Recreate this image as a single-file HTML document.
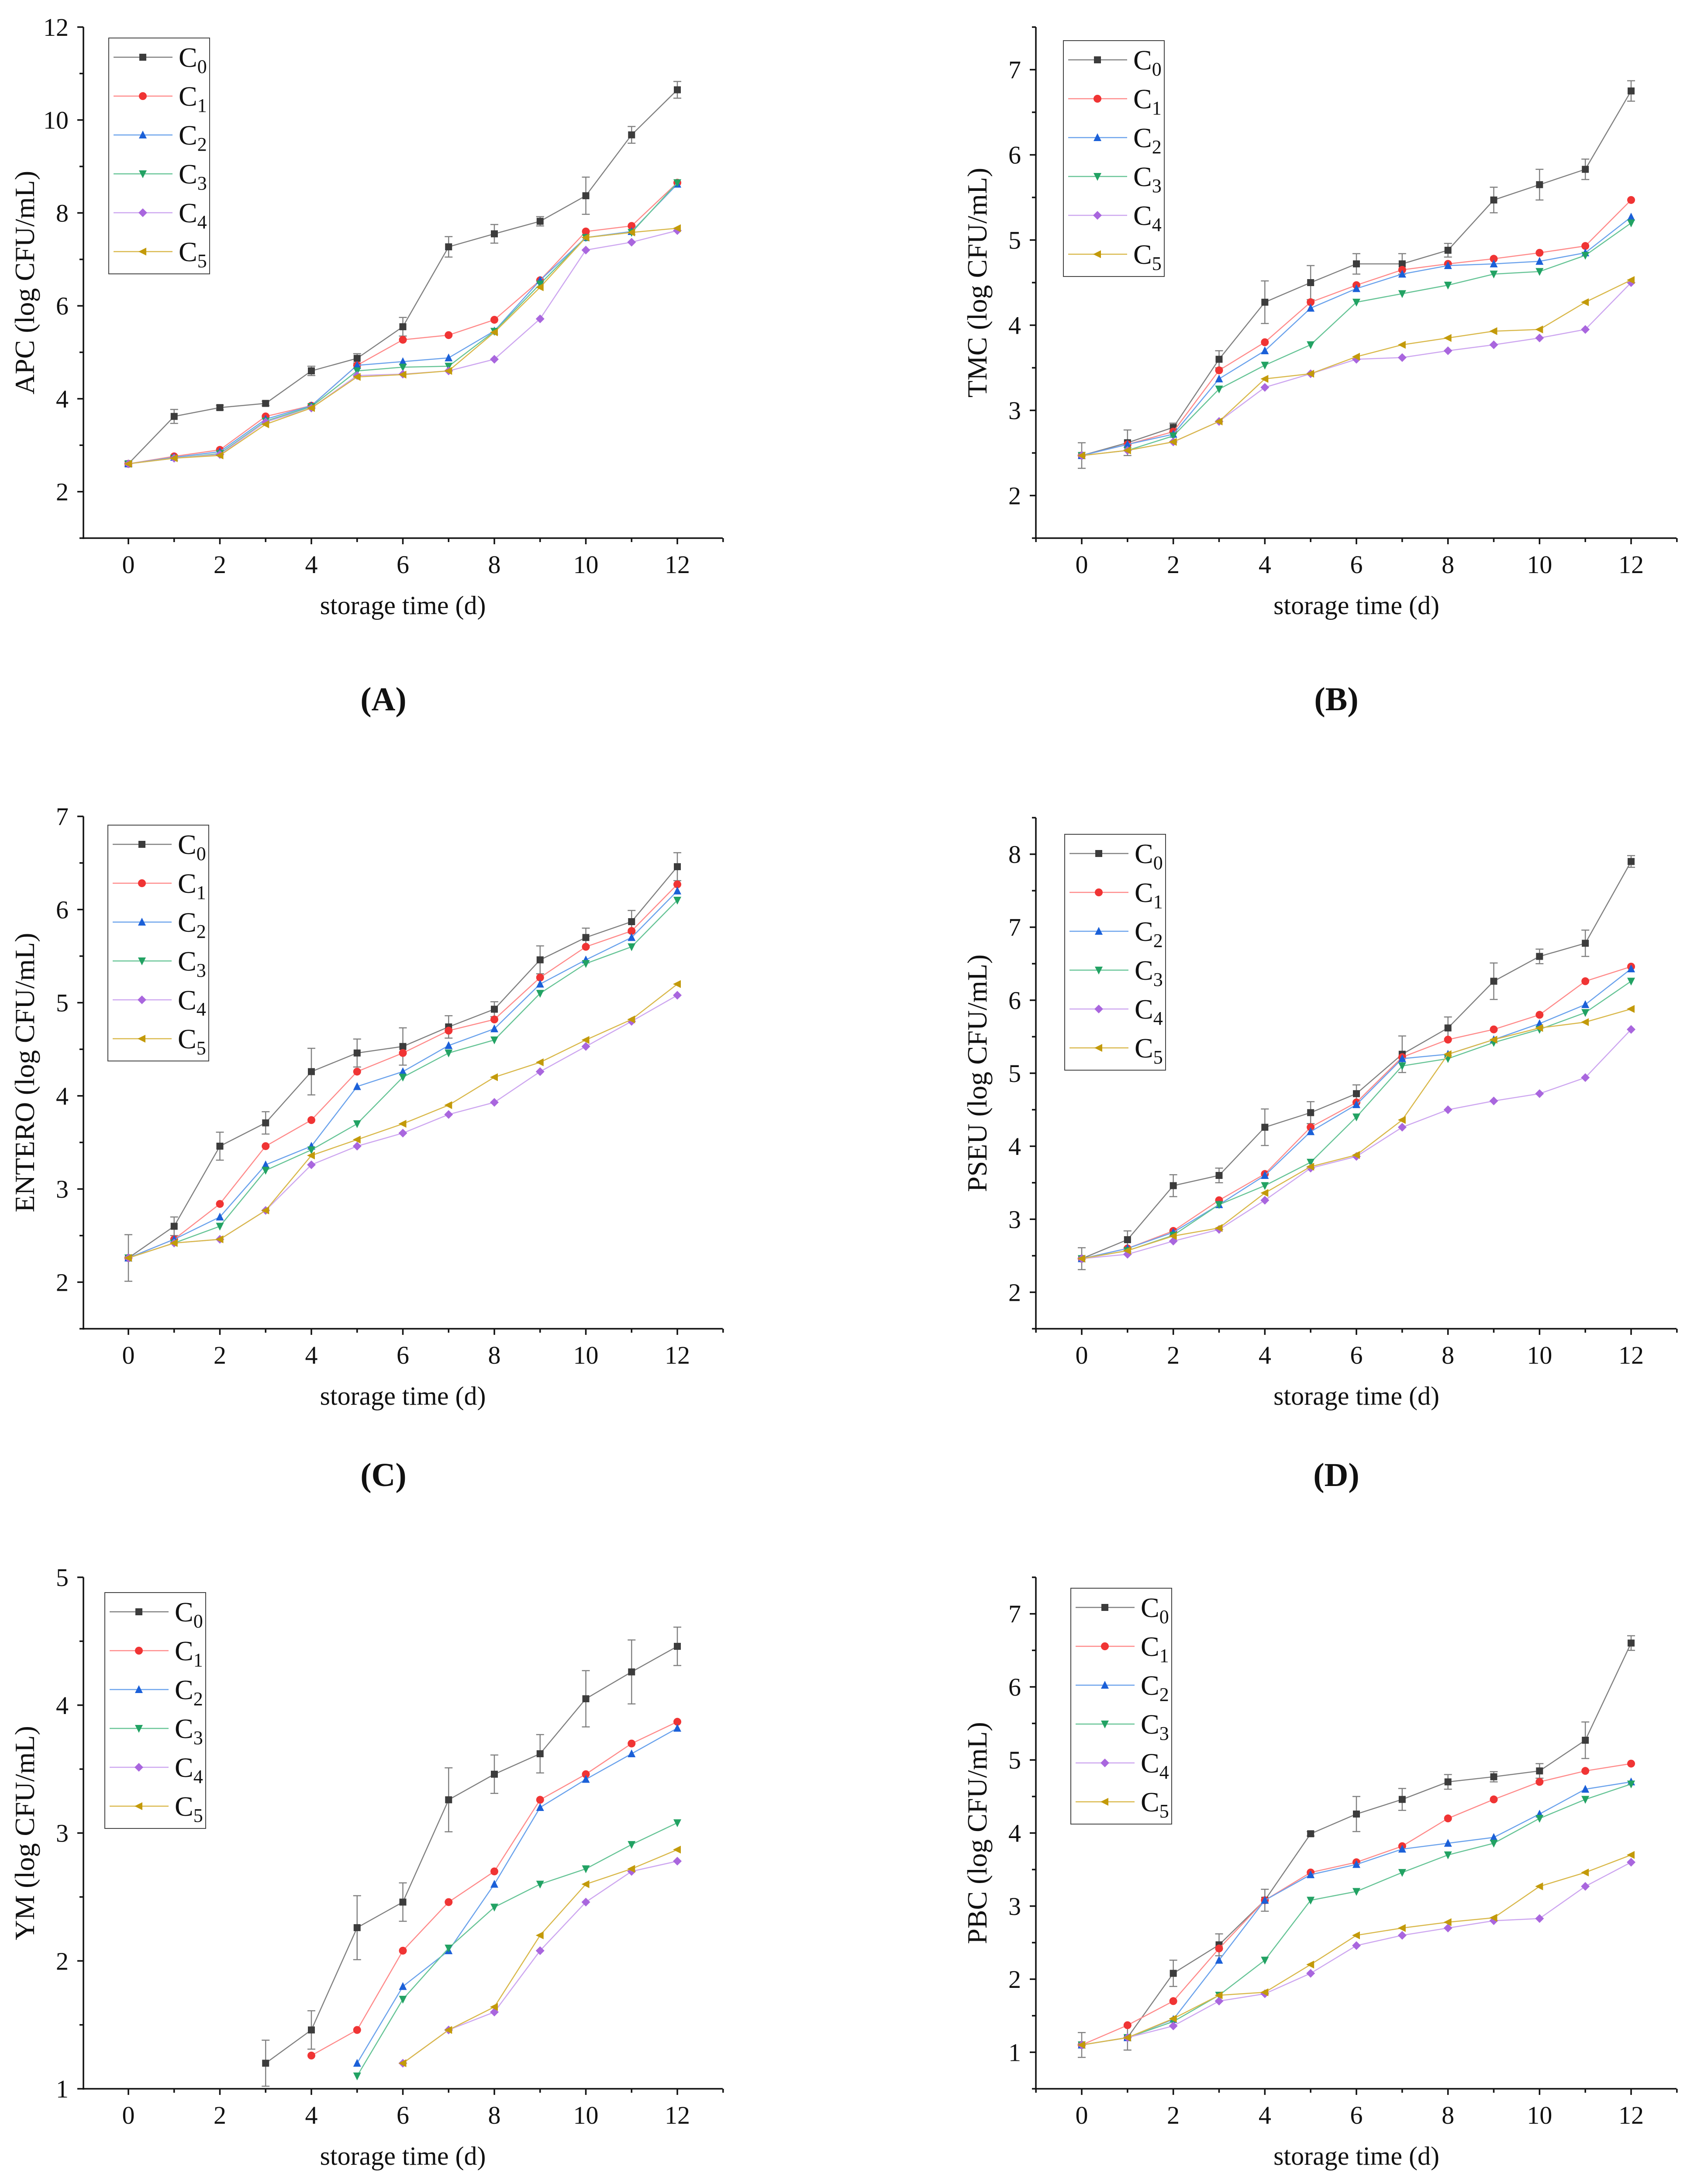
<!DOCTYPE html>
<html><head><meta charset="utf-8"><style>
html,body{margin:0;padding:0;background:#fff;overflow:hidden;width:3863px;height:5177px}
#wrap{position:absolute;left:0;top:0;width:3863px;height:5177px;overflow:hidden}
svg{display:block;position:absolute;left:0;top:0}
text{font-family:"Liberation Serif",serif;fill:#111}
</style></head><body>
<div id="wrap">
<svg id="fig" xmlns="http://www.w3.org/2000/svg" width="3863" height="5177" viewBox="0 0 3863 5177">
<rect width="3863" height="5177" fill="#fff"/>
</svg>
</div>
<script>
const days = [0,1,2,3,4,5,6,7,8,9,10,11,12];
const seriesNames = ["C0","C1","C2","C3","C4","C5"];
const xTickLabels = ["0","2","4","6","8","10","12"];

const apcC0 = [2.6,3.62,3.81,3.9,4.6,4.87,5.55,7.27,7.55,7.82,8.37,9.68,10.65];
const apcC1 = [2.6,2.76,2.9,3.62,3.85,4.72,5.27,5.37,5.7,6.55,7.6,7.72,8.65];
const apcC2 = [2.6,2.74,2.86,3.56,3.85,4.72,4.8,4.88,5.46,6.55,7.47,7.6,8.62];
const apcC3 = [2.6,2.72,2.82,3.52,3.83,4.6,4.68,4.7,5.45,6.47,7.47,7.58,8.65];
const apcC4 = [2.6,2.72,2.8,3.5,3.8,4.5,4.53,4.6,4.85,5.72,7.2,7.37,7.62];
const apcC5 = [2.6,2.72,2.78,3.45,3.8,4.47,4.52,4.6,5.43,6.4,7.47,7.58,7.67];
const apcErrC0 = [0.05,0.15,0.05,0.05,0.1,0.1,0.2,0.22,0.2,0.1,0.4,0.18,0.18];

const tmcC0 = [2.47,2.62,2.8,3.6,4.27,4.5,4.72,4.72,4.88,5.47,5.65,5.83,6.75];
const tmcC1 = [2.47,2.6,2.75,3.47,3.8,4.27,4.47,4.65,4.72,4.78,4.85,4.93,5.47];
const tmcC2 = [2.47,2.6,2.72,3.37,3.7,4.2,4.43,4.6,4.7,4.72,4.75,4.85,5.27];
const tmcC3 = [2.47,2.53,2.7,3.25,3.53,3.77,4.27,4.37,4.47,4.6,4.63,4.82,5.2];
const tmcC4 = [2.47,2.53,2.63,2.87,3.27,3.43,3.6,3.62,3.7,3.77,3.85,3.95,4.5];
const tmcC5 = [2.47,2.53,2.63,2.87,3.37,3.43,3.63,3.77,3.85,3.93,3.95,4.27,4.53];
const tmcErrC0 = [0.15,0.15,0.05,0.1,0.25,0.2,0.12,0.12,0.08,0.15,0.18,0.12,0.12];

const entC0 = [2.26,2.6,3.46,3.71,4.26,4.46,4.53,4.74,4.93,5.46,5.7,5.87,6.46];
const entC1 = [2.26,2.46,2.84,3.46,3.74,4.26,4.46,4.7,4.82,5.27,5.6,5.77,6.27];
const entC2 = [2.26,2.46,2.7,3.26,3.46,4.1,4.26,4.54,4.72,5.2,5.46,5.7,6.2];
const entC3 = [2.26,2.42,2.6,3.2,3.42,3.7,4.2,4.46,4.6,5.1,5.42,5.6,6.1];
const entC4 = [2.26,2.42,2.46,2.77,3.26,3.46,3.6,3.8,3.93,4.26,4.53,4.8,5.08];
const entC5 = [2.26,2.42,2.46,2.77,3.36,3.53,3.7,3.9,4.2,4.36,4.6,4.82,5.2];
const entErrC0 = [0.25,0.1,0.15,0.12,0.25,0.15,0.2,0.12,0.08,0.15,0.1,0.12,0.15];

const pseC0 = [2.46,2.72,3.46,3.6,4.26,4.46,4.72,5.26,5.62,6.26,6.6,6.78,7.9];
const pseC1 = [2.46,2.6,2.84,3.26,3.62,4.26,4.6,5.22,5.46,5.6,5.8,6.26,6.46];
const pseC2 = [2.46,2.6,2.82,3.2,3.6,4.2,4.57,5.2,5.26,5.46,5.68,5.94,6.43];
const pseC3 = [2.46,2.57,2.78,3.2,3.46,3.78,4.4,5.1,5.2,5.42,5.6,5.83,6.26];
const pseC4 = [2.46,2.52,2.7,2.86,3.26,3.7,3.86,4.26,4.5,4.62,4.72,4.94,5.6];
const pseC5 = [2.46,2.57,2.77,2.88,3.36,3.72,3.88,4.36,5.26,5.46,5.62,5.7,5.88];
const pseErrC0 = [0.15,0.12,0.15,0.1,0.25,0.15,0.12,0.25,0.15,0.25,0.1,0.18,0.08];

const ymC0 = [null,null,null,1.2,1.46,2.26,2.46,3.26,3.46,3.62,4.05,4.26,4.46];
const ymC1 = [null,null,null,null,1.26,1.46,2.08,2.46,2.7,3.26,3.46,3.7,3.87];
const ymC2 = [null,null,null,null,null,1.2,1.8,2.08,2.6,3.2,3.42,3.62,3.82];
const ymC3 = [null,null,null,null,null,1.1,1.7,2.1,2.42,2.6,2.72,2.91,3.08];
const ymC4 = [null,null,null,null,null,null,1.2,1.46,1.6,2.08,2.46,2.7,2.78];
const ymC5 = [null,null,null,null,null,null,1.2,1.46,1.64,2.2,2.6,2.72,2.87];
const ymErrC0 = [null,null,null,0.18,0.15,0.25,0.15,0.25,0.15,0.15,0.22,0.25,0.15];

const pbcC0 = [1.1,1.2,2.08,2.47,3.08,3.99,4.26,4.46,4.7,4.77,4.85,5.27,6.6];
const pbcC1 = [1.1,1.37,1.7,2.42,3.08,3.46,3.6,3.82,4.2,4.46,4.7,4.85,4.95];
const pbcC2 = [1.1,1.2,1.45,2.26,3.08,3.43,3.57,3.78,3.86,3.94,4.26,4.6,4.7];
const pbcC3 = [1.1,1.2,1.42,1.78,2.26,3.08,3.2,3.46,3.7,3.86,4.2,4.46,4.67];
const pbcC4 = [1.1,1.2,1.36,1.7,1.8,2.08,2.46,2.6,2.7,2.8,2.83,3.27,3.6];
const pbcC5 = [1.1,1.2,1.46,1.78,1.82,2.2,2.6,2.7,2.78,2.84,3.27,3.46,3.7];
const pbcErrC0 = [0.17,0.17,0.18,0.15,0.15,0.03,0.24,0.15,0.1,0.07,0.1,0.25,0.1];

const NS = "http://www.w3.org/2000/svg";
const svg = document.getElementById("fig");
const lineColors = ["#808080","#ff8a8a","#6aa2ec","#66c496","#cda6f0","#d9b84a"];
const markColors = ["#3c3c3c","#f03434","#1b60d8","#22a263","#a966de","#c39a0a"];
const markers = ["square","circle","triangle","tridown","diamond","triLeft"];

function mk(tag, attrs, parent){
  const e = document.createElementNS(NS, tag);
  for (const k in attrs) e.setAttribute(k, attrs[k]);
  (parent||svg).appendChild(e);
  return e;
}
function drawMarker(g, type, cx, cy, col){
  const s = 8;
  let e;
  if (type==="square") e = mk("rect",{x:cx-s,y:cy-s,width:2*s,height:2*s,fill:col},g);
  else if (type==="circle") e = mk("circle",{cx:cx,cy:cy,r:s+1,fill:col},g);
  else if (type==="triangle") e = mk("polygon",{points:`${cx},${cy-s-2} ${cx+s+1},${cy+s} ${cx-s-1},${cy+s}`,fill:col},g);
  else if (type==="tridown") e = mk("polygon",{points:`${cx},${cy+s+2} ${cx+s+1},${cy-s} ${cx-s-1},${cy-s}`,fill:col},g);
  else if (type==="diamond") e = mk("polygon",{points:`${cx},${cy-s-2} ${cx+s+2},${cy} ${cx},${cy+s+2} ${cx-s-2},${cy}`,fill:col},g);
  else e = mk("polygon",{points:`${cx-s-2},${cy} ${cx+s},${cy-s-1} ${cx+s},${cy+s+1}`,fill:col},g);
  return e;
}

function panel(p){
  const g = mk("g",{});
  
  
  const xs = d => p.x0 + (d - 0) * (p.x12 - p.x0) / 12;
  const ys = v => p.bottom - (v - p.ymin) * (p.bottom - p.top) / (p.ymax - p.ymin);
  const eg = mk("g",{stroke:lineColors[0],"stroke-width":2.5},g);
  
  
  p.series[0].forEach((v,i)=>{
    const e = p.err[i];
    if (v===null || e===null) return;
    const x = xs(days[i]);
    mk("line",{x1:x,y1:ys(v+e),x2:x,y2:ys(v-e)},eg);
    mk("line",{x1:x-9,y1:ys(v+e),x2:x+9,y2:ys(v+e)},eg);
    mk("line",{x1:x-9,y1:ys(v-e),x2:x+9,y2:ys(v-e)},eg);
  });
  p.series.forEach((vals, si) => {
    const sg = mk("g",{},g);
    
    
    let pts = [];
    vals.forEach((v,i)=>{ if(v!==null) pts.push([xs(days[i]), ys(v)]); });
    const pl = mk("polyline",{points:pts.map(q=>q.join(",")).join(" "),fill:"none",stroke:lineColors[si],"stroke-width":2.5},sg);
    
    
    pts.forEach(q=>{
      const m = drawMarker(sg, markers[si], q[0], q[1], markColors[si]);
      
      
    });
  });
  const ax = mk("g",{stroke:"#111","stroke-width":3.5},g);
  
  
  mk("line",{x1:p.axisX,y1:p.top,x2:p.axisX,y2:p.bottom+2},ax);
  mk("line",{x1:p.axisX-2,y1:p.bottom,x2:p.right,y2:p.bottom},ax);
  for (let d=-1; d<=13; d++){
    const x = xs(d);
    if (x < p.axisX-1 || x > p.right+1) continue;
    const len = (d%2===0) ? 14 : 9;
    mk("line",{x1:x,y1:p.bottom,x2:x,y2:p.bottom+len},ax);
  }
  xTickLabels.forEach(lab=>{
    const t = mk("text",{x:xs(Number(lab)),y:p.bottom+80,"font-size":58,"text-anchor":"middle"},g);
    t.textContent = lab;
    
    
  });
  for (let v=p.ymin; v<=p.ymax+1e-9; v+=p.minor){
    const vv = Math.round(v*100)/100;
    const isMajor = Math.abs(vv/p.major - Math.round(vv/p.major))<1e-6 && vv>=p.firstTick;
    mk("line",{x1:p.axisX,y1:ys(vv),x2:p.axisX-(isMajor?14:9),y2:ys(vv)},ax);
    if (isMajor){
      const t = mk("text",{x:p.axisX-34,y:ys(vv)+20,"font-size":58,"text-anchor":"end"},g);
      t.textContent = String(vv);
      
      
    }
  }
  const xt = mk("text",{x:(p.x0+p.x12)/2,y:p.bottom+174,"font-size":60,"text-anchor":"middle"},g);
  xt.textContent = "storage time (d)";
  
  
  const cy = (p.top+p.bottom)/2, cx = p.axisX-135;
  const yt = mk("text",{x:cx,y:cy,"font-size":64,"text-anchor":"middle",transform:`rotate(-90 ${cx} ${cy}) translate(0 22)`},g);
  yt.textContent = p.ytitle;
  
  
  const pl = mk("text",{x:p.labelX,y:p.labelY,"font-size":76,"font-weight":"bold","text-anchor":"middle"},g);
  pl.textContent = p.label;
  
  
  const lg = mk("g",{},g);
  
  
  mk("rect",{x:p.legX,y:p.legY,width:231,height:540,fill:"#fff",stroke:"#444","stroke-width":2},lg);
  seriesNames.forEach((n,si)=>{
    const ry = p.legY + 44 + si*89;
    const e = mk("g",{},lg);
    
    
    mk("line",{x1:p.legX+11,y1:ry,x2:p.legX+146,y2:ry,stroke:lineColors[si],"stroke-width":2.5},e);
    drawMarker(e, markers[si], p.legX+78, ry, markColors[si]);
    const t = mk("text",{x:p.legX+160,y:ry+22,"font-size":64},e);
    t.textContent = "C";
    const sub = mk("tspan",{"font-size":44,dy:14},t);
    sub.textContent = n.slice(1);
  });
}

const leftX = {axisX:191,x0:294,x12:1551,right:1655,labelX:878};
const rightX = {axisX:2372,x0:2477,x12:3735,right:3839,labelX:3060};

panel(Object.assign({name:"apc",top:62,bottom:1232,ymin:1,ymax:12,minor:1,major:2,firstTick:2,ytitle:"APC (log CFU/mL)",label:"(A)",labelY:1626,legX:249,legY:87,
  series:[apcC0,apcC1,apcC2,apcC3,apcC4,apcC5],err:apcErrC0}, leftX));
panel(Object.assign({name:"tmc",top:62,bottom:1232,ymin:1.5,ymax:7.5,minor:0.5,major:1,firstTick:2,ytitle:"TMC (log CFU/mL)",label:"(B)",labelY:1626,legX:2435,legY:93,
  series:[tmcC0,tmcC1,tmcC2,tmcC3,tmcC4,tmcC5],err:tmcErrC0}, rightX));
panel(Object.assign({name:"entero",top:1869,bottom:3042,ymin:1.5,ymax:7,minor:0.5,major:1,firstTick:2,ytitle:"ENTERO (log CFU/mL)",label:"(C)",labelY:3402,legX:247,legY:1889,
  series:[entC0,entC1,entC2,entC3,entC4,entC5],err:entErrC0}, leftX));
panel(Object.assign({name:"pseu",top:1872,bottom:3042,ymin:1.5,ymax:8.5,minor:0.5,major:1,firstTick:2,ytitle:"PSEU (log CFU/mL)",label:"(D)",labelY:3402,legX:2438,legY:1910,
  series:[pseC0,pseC1,pseC2,pseC3,pseC4,pseC5],err:pseErrC0}, rightX));
panel(Object.assign({name:"ym",top:3611,bottom:4782,ymin:1,ymax:5,minor:0.5,major:1,firstTick:1,ytitle:"YM (log CFU/mL)",label:"(E)",labelY:5134,legX:240,legY:3646,
  series:[ymC0,ymC1,ymC2,ymC3,ymC4,ymC5],err:ymErrC0}, leftX));
panel(Object.assign({name:"pbc",top:3611,bottom:4782,ymin:0.5,ymax:7.5,minor:0.5,major:1,firstTick:1,ytitle:"PBC (log CFU/mL)",label:"(F)",labelY:5134,legX:2452,legY:3636,
  series:[pbcC0,pbcC1,pbcC2,pbcC3,pbcC4,pbcC5],err:pbcErrC0}, rightX));
</script>
</body></html>
